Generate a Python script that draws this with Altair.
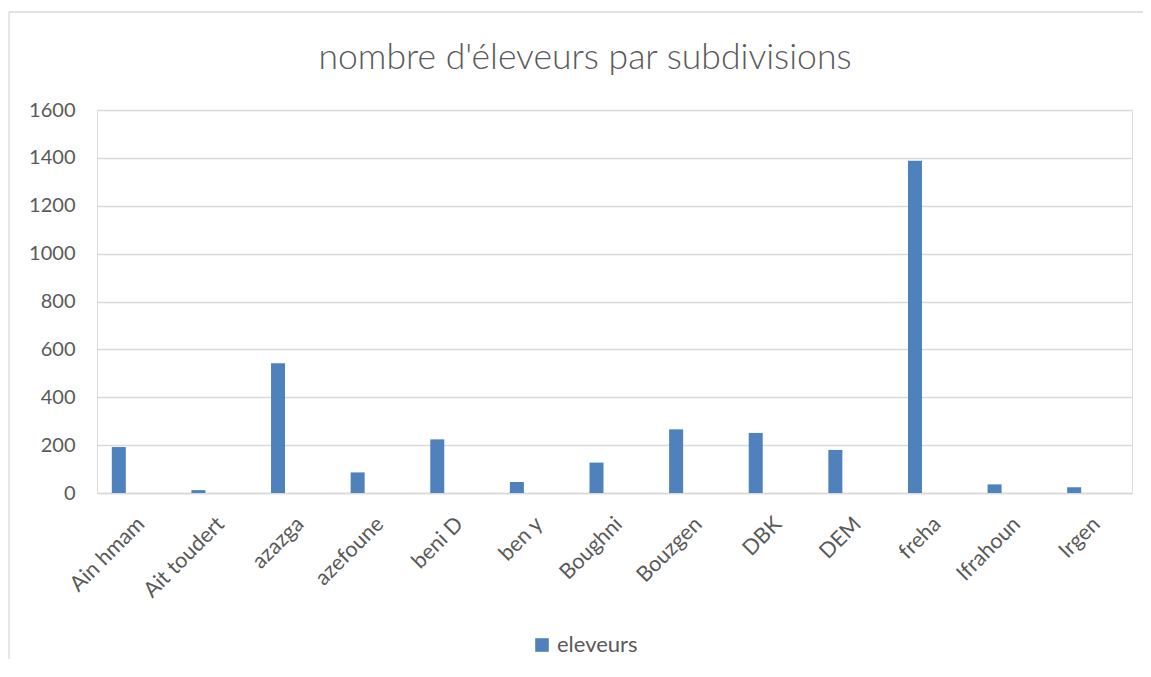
import altair as alt
import pandas as pd

categories = ["Ain hmam", "Ait toudert", "azazga", "azefoune", "beni D", "ben y",
              "Boughni", "Bouzgen", "DBK", "DEM", "freha", "Ifrahoun", "Irgen"]
eleveurs = [192, 12, 542, 86, 224, 46, 127, 266, 251, 180, 1388, 36, 24]
series_name = ["eleveurs"]
y_ticks = [0, 200, 400, 600, 800, 1000, 1200, 1400, 1600]

df = pd.DataFrame({"subdivision": categories, "valeur": eleveurs,
                   "serie": series_name * len(categories)})

FONT = "Lato"
GRAY = "#595959"
GRID = "#d9d9d9"
W, H = 1035, 383

bars = alt.Chart(df).mark_bar(width=14, xOffset=-18, color="#4f81bd").encode(
    x=alt.X("subdivision:N", sort=None,
            scale=alt.Scale(paddingInner=0, paddingOuter=0),
            axis=alt.Axis(title=None, labelAngle=-45, labelAlign="right",
                          labelBaseline="top", labelPadding=20, labelOffset=-3,
                          ticks=False, domain=True, domainColor=GRID, domainWidth=1.3,
                          labelFont=FONT, labelFontSize=21.5, labelColor=GRAY, grid=False)),
    y=alt.Y("valeur:Q",
            scale=alt.Scale(domain=[0, 1600], nice=False),
            axis=alt.Axis(title=None, values=y_ticks, format="d", ticks=False, domain=False,
                          grid=True, gridColor=GRID, gridWidth=1.3,
                          labelFont=FONT, labelFontSize=20, labelColor=GRAY,
                          labelPadding=22)),
    color=alt.Color("serie:N", scale=alt.Scale(range=["#4f81bd"]),
                    legend=alt.Legend(title=None, orient="none", legendX=434, legendY=524,
                                      symbolType="square", symbolSize=185,
                                      symbolStrokeWidth=0, padding=0,
                                      labelFont=FONT, labelFontSize=22, labelColor=GRAY,
                                      labelOffset=4)),
)

frame_df = pd.DataFrame({"k": [0]})
frame_top = alt.Chart(frame_df).mark_rule(color=GRID, strokeWidth=1.3).encode(
    x=alt.value(-88), x2=alt.value(W + 20), y=alt.value(-98))
frame_left = alt.Chart(frame_df).mark_rule(color=GRID, strokeWidth=1.3).encode(
    x=alt.value(-88), y=alt.value(-98), y2=alt.value(H + 200))

chart = alt.layer(frame_top, frame_left, bars).properties(
    width=W, height=H,
    autosize=alt.AutoSizeParams(type="none"),
    padding={"left": 89, "top": 102, "right": 11, "bottom": 166},
    title=alt.TitleParams("nombre d'éleveurs par subdivisions", font=FONT, fontSize=35.5,
                          fontWeight=300, color=GRAY, anchor="middle", dx=-29.5,
                          baseline="alphabetic", offset=-93),
).configure_view(stroke=None).configure(background="white")

chart.save("out.html", embed_options={"renderer": "svg", "actions": False})
